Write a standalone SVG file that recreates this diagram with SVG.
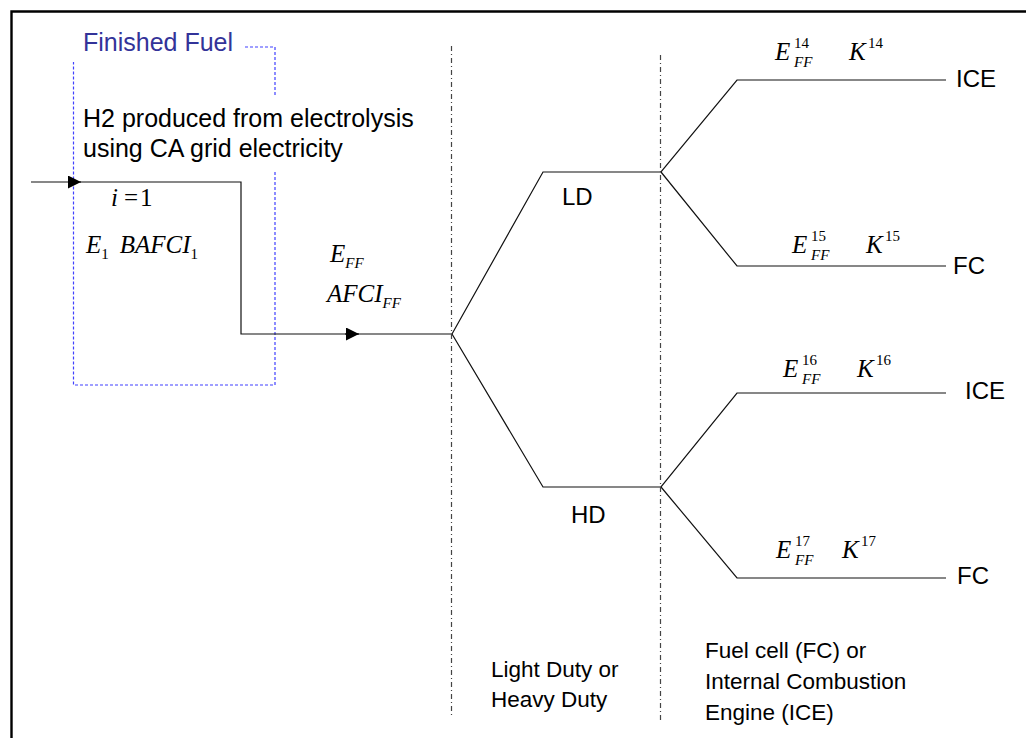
<svg xmlns="http://www.w3.org/2000/svg" width="1026" height="738" viewBox="0 0 1026 738">
<style>
.ln{fill:none;stroke:#111;stroke-width:1.2}
.frame{fill:none;stroke:#000;stroke-width:2.4}
.blue{fill:none;stroke:#4040ff;stroke-width:1.2;stroke-dasharray:3 2}
.dd{fill:none;stroke:#444;stroke-width:1.2;stroke-dasharray:5 3 1 3}
.t{font-family:"Liberation Sans",Arial,sans-serif;fill:#000}
.m{font-family:"Liberation Serif","Times New Roman",serif;font-style:italic;fill:#000;font-size:25px}
.s{font-size:15px}
.up{font-style:normal;font-size:15px}
</style>
<defs>
<marker id="arr" markerWidth="14" markerHeight="13" refX="13" refY="6.5" orient="auto" markerUnits="userSpaceOnUse">
<path d="M0,0 L13,6.5 L0,13 Z" fill="#000"/>
</marker>
</defs>
<rect width="1026" height="738" fill="#fff"/>
<path class="frame" d="M11.5,740 V11.5 H1030"/>

<g id="finished-fuel">
<path class="blue" d="M245,47 H275 V95 M275,172 V385 H73.5 V62"/>
<text class="t" x="83" y="51" font-size="25" style="fill:#333399">Finished Fuel</text>
<text class="t" x="83" y="127" font-size="25">H2 produced from electrolysis</text>
<text class="t" x="83" y="157" font-size="25">using CA grid electricity</text>
<text class="m" x="111" y="206">i<tspan font-style="normal" dx="6">=</tspan><tspan font-style="normal" dx="2">1</tspan></text>
<text class="m" x="86" y="253">E<tspan class="up" dy="6">1</tspan><tspan dy="-6" dx="11">BAFCI</tspan><tspan class="up" dy="6">1</tspan></text>
</g>

<g id="connectors">
<path class="ln" d="M31,182 H81" marker-end="url(#arr)"/>
<path class="ln" d="M80,182 H241 V334 H358"/>
<path class="ln" d="M345,334 H359" marker-end="url(#arr)"/>
<path class="ln" d="M358,334 H452"/>
<path class="ln" d="M452,334 L543,172 H661 L737,80 H946"/>
<path class="ln" d="M661,172 L737,266 H946"/>
<path class="ln" d="M452,334 L543,487 H661 L737,393 H946"/>
<path class="ln" d="M661,487 L737,578 H946"/>
<path class="dd" d="M451.5,46 V718"/>
<path class="dd" d="M660.5,55 V720"/>
</g>

<g id="ff-label">
<text class="m" x="330" y="262">E<tspan class="s" dy="6">FF</tspan></text>
<text class="m" x="327" y="302">AFCI<tspan class="s" dy="6">FF</tspan></text>
</g>

<g id="ld">
<text class="t" x="562" y="205" font-size="24">LD</text>
</g>
<g id="hd">
<text class="t" x="571" y="523" font-size="24">HD</text>
</g>

<g id="ice-ld">
<text class="m" x="775" y="60">E</text>
<text class="m up" x="794" y="48">14</text>
<text class="m s" x="794" y="67">FF</text>
<text class="m" x="849" y="60">K</text>
<text class="m up" x="868" y="48">14</text>
<text class="t" x="956" y="87" font-size="24">ICE</text>
</g>
<g id="fc-ld">
<text class="m" x="792" y="253">E</text>
<text class="m up" x="811" y="241">15</text>
<text class="m s" x="811" y="260">FF</text>
<text class="m" x="866" y="253">K</text>
<text class="m up" x="885" y="241">15</text>
<text class="t" x="953" y="274" font-size="24">FC</text>
</g>
<g id="ice-hd">
<text class="m" x="783" y="377">E</text>
<text class="m up" x="802" y="365">16</text>
<text class="m s" x="802" y="384">FF</text>
<text class="m" x="857" y="377">K</text>
<text class="m up" x="876" y="365">16</text>
<text class="t" x="965" y="399" font-size="24">ICE</text>
</g>
<g id="fc-hd">
<text class="m" x="776" y="558">E</text>
<text class="m up" x="795" y="546">17</text>
<text class="m s" x="795" y="565">FF</text>
<text class="m" x="842" y="558">K</text>
<text class="m up" x="861" y="546">17</text>
<text class="t" x="957" y="584" font-size="24">FC</text>
</g>

<g id="duty-label">
<text class="t" x="491" y="677" font-size="22.5">Light Duty or</text>
<text class="t" x="491" y="707" font-size="22.5">Heavy Duty</text>
</g>
<g id="engine-label">
<text class="t" x="705" y="658" font-size="22.5">Fuel cell (FC) or</text>
<text class="t" x="705" y="689" font-size="22.5">Internal Combustion</text>
<text class="t" x="705" y="720" font-size="22.5">Engine (ICE)</text>
</g>
</svg>
